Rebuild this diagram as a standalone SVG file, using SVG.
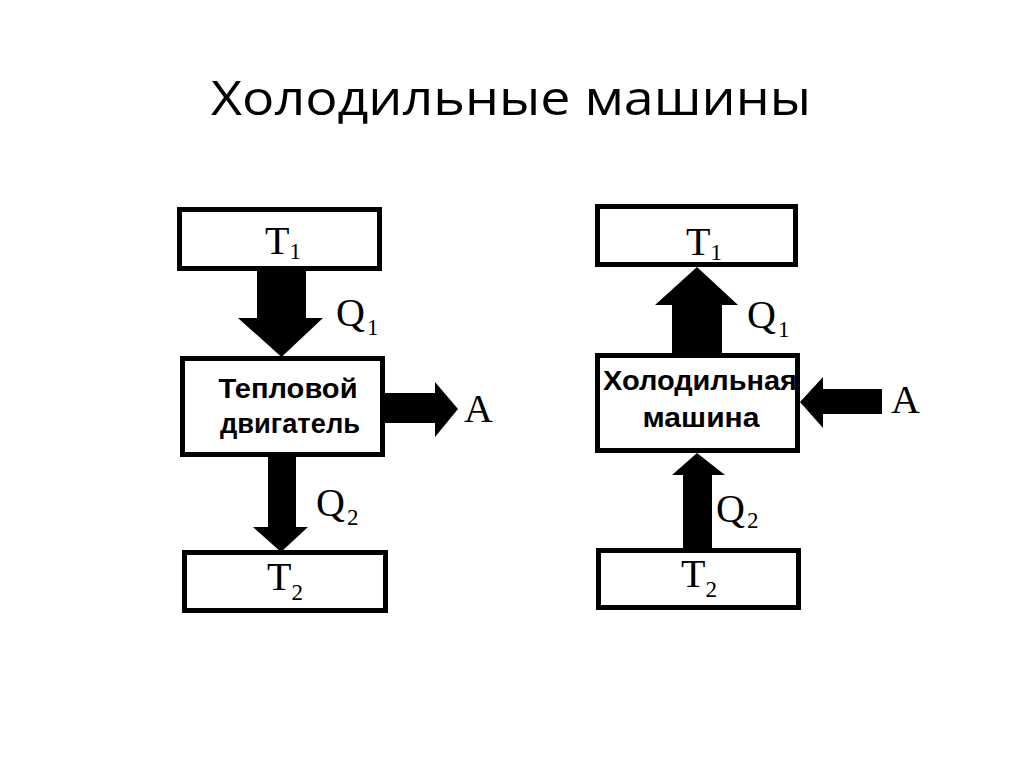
<svg xmlns="http://www.w3.org/2000/svg" width="1024" height="767" viewBox="0 0 1024 767">
<style>
.box{fill:#fff;stroke:#000;stroke-width:5}
.arr{fill:#000}
.sym{font-family:"Liberation Serif","Times New Roman",serif;font-size:40px;fill:#000}
.sub{font-size:23px}
.lbl{font-family:"Liberation Sans",Arial,sans-serif;font-weight:bold;font-size:27px;fill:#000;text-anchor:middle}
.title{font-family:"Open Sans","Liberation Sans",sans-serif;font-size:48px;fill:#000;text-anchor:middle}
</style>
<rect width="1024" height="767" fill="#fff"/>
<text class="title" x="511" y="115" textLength="600" lengthAdjust="spacingAndGlyphs">Холодильные машины</text>

<g id="connectors">
  <!-- left diagram -->
  <polygon class="arr" points="257,271 306,271 306,318 323,318 281.5,357 238,318 257,318"/>
  <polygon class="arr" points="385,393 435,393 435,382 458,409 435,437 435,423 385,423"/>
  <polygon class="arr" points="268,455 296,455 296,527 308,527 281,552 253,527 268,527"/>
  <text class="sym" x="336" y="326">Q<tspan class="sub" dx="2" dy="9">1</tspan></text>
  <text class="sym" x="464" y="422">A</text>
  <text class="sym" x="316" y="516">Q<tspan class="sub" dx="2" dy="9">2</tspan></text>
  <!-- right diagram -->
  <polygon class="arr" points="697,267 738,305 722,305 722,355 672,355 672,305 655,305"/>
  <polygon class="arr" points="800,402 823,377 823,389 882,389 882,414 823,414 823,428"/>
  <polygon class="arr" points="697,453 725,475 712,475 712,550 683,550 683,475 672,475"/>
  <text class="sym" x="747" y="328">Q<tspan class="sub" dx="2" dy="9">1</tspan></text>
  <text class="sym" x="891" y="413">A</text>
  <text class="sym" x="716" y="522">Q<tspan class="sub" dx="2" dy="6">2</tspan></text>
</g>

<g id="left-T1">
  <rect class="box" x="179.5" y="209.5" width="200" height="59"/>
  <text class="sym" x="265" y="254">T<tspan class="sub" dx="0" dy="5">1</tspan></text>
</g>
<g id="heat-engine">
  <rect class="box" x="182.5" y="358.5" width="200" height="96"/>
  <text class="lbl" x="288" y="398" textLength="139" lengthAdjust="spacingAndGlyphs">Тепловой</text>
  <text class="lbl" x="290" y="433" textLength="140" lengthAdjust="spacingAndGlyphs">двигатель</text>
</g>
<g id="left-T2">
  <rect class="box" x="184.5" y="552.5" width="201" height="58"/>
  <text class="sym" x="267" y="590">T<tspan class="sub" dx="0" dy="10">2</tspan></text>
</g>

<g id="right-T1">
  <rect class="box" x="597.5" y="206.5" width="198" height="58"/>
  <text class="sym" x="686" y="255">T<tspan class="sub" dx="0" dy="5">1</tspan></text>
</g>
<g id="fridge">
  <rect class="box" x="597.5" y="355.5" width="200" height="95"/>
  <text class="lbl" x="700" y="390" textLength="194" lengthAdjust="spacingAndGlyphs">Холодильная</text>
  <text class="lbl" x="701" y="427" textLength="117" lengthAdjust="spacingAndGlyphs">машина</text>
</g>
<g id="right-T2">
  <rect class="box" x="598.5" y="550.5" width="200" height="57"/>
  <text class="sym" x="681" y="587">T<tspan class="sub" dx="0" dy="10">2</tspan></text>
</g>
</svg>
